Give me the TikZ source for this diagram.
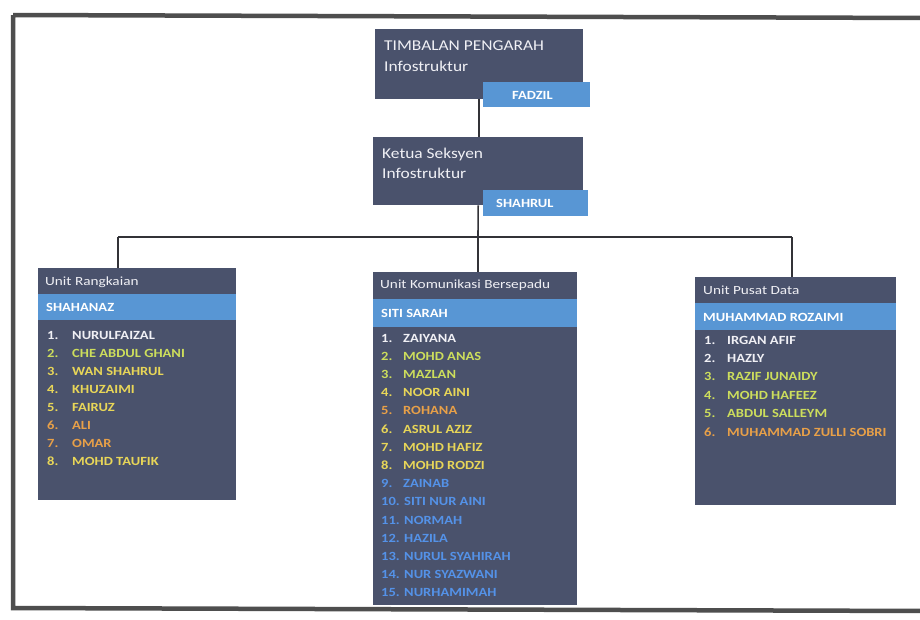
\documentclass[tikz,border=0pt]{standalone}
\usepackage{fontspec}
\setmainfont{Carlito}
\newfontfamily\wfont[FakeStretch=1.16]{Carlito}
\newfontfamily\hfont[FakeStretch=1.22]{Carlito}
\definecolor{boxc}{RGB}{74,82,108}
\definecolor{barc}{RGB}{88,150,212}
\definecolor{framec}{RGB}{78,78,78}
\definecolor{linec}{RGB}{50,50,55}
\definecolor{cw}{RGB}{240,240,245}
\definecolor{cg}{RGB}{205,222,92}
\definecolor{cy}{RGB}{232,214,88}
\definecolor{co}{RGB}{232,160,72}
\definecolor{cb}{RGB}{84,146,232}
\tikzset{
  panel/.style={fill=boxc, inner sep=0pt, anchor=north west},
  bar/.style={fill=barc, inner sep=0pt, anchor=north west},
  ttl/.style={anchor=west, inner sep=0pt, text=cw, font=\wfont\fontsize{15}{15}\selectfont},
  hdr/.style={anchor=west, inner sep=0pt, text=cw, font=\hfont\fontsize{12.5}{12.5}\selectfont},
  bartxt/.style={anchor=west, inner sep=0pt, text=white, font=\wfont\bfseries\fontsize{12.5}{12.5}\selectfont},
  item/.style={anchor=west, inner sep=0pt, font=\wfont\bfseries\fontsize{12.5}{12.5}\selectfont},
  conn/.style={draw=linec, line width=1.6pt}
}
\begin{document}
\begin{tikzpicture}[x=1pt,y=-1pt]
\useasboundingbox (0,0) rectangle (920,619);
\fill[white] (0,0) rectangle (920,619);
\draw[framec, line width=4.5pt] (13,15) -- (930,18) (13,15) -- (13,608) -- (930,611);

% top box
\node[panel, minimum width=208pt, minimum height=70pt] (top) at (375,29) {};
\node[ttl] (topt1) at (384,46) {TIMBALAN PENGARAH};
\node[ttl] (topt2) at (384,66) {Infostruktur};
\node[bar, minimum width=107pt, minimum height=25pt] (topbar) at (483,82) {};
\node[bartxt] (topname) at (512,95) {FADZIL};

% second box
\node[panel, minimum width=210pt, minimum height=68pt] (sec) at (373,137) {};
\node[ttl] (sect1) at (382,154) {Ketua Seksyen};
\node[ttl] (sect2) at (382,173) {Infostruktur};
\node[bar, minimum width=105pt, minimum height=26pt] (secbar) at (483,190) {};
\node[bartxt] (secname) at (496,203) {SHAHRUL};

% unit boxes
\node[panel, minimum width=198pt, minimum height=232pt] (lb) at (38,268) {};
\node[panel, minimum width=204pt, minimum height=333pt] (mb) at (373,272) {};
\node[panel, minimum width=201pt, minimum height=228pt] (rb) at (695,277) {};

% blue bars in unit boxes
\node[bar, minimum width=198pt, minimum height=26pt] (lbar) at (38,294) {};
\node[bar, minimum width=204pt, minimum height=28pt] (mbar) at (373,299) {};
\node[bar, minimum width=201pt, minimum height=27pt] (rbar) at (695,303) {};

\node[hdr] (lh) at (45,282) {Unit Rangkaian};
\node[hdr] (mh) at (380,285) {Unit Komunikasi Bersepadu};
\node[hdr] (rh) at (703,290) {Unit Pusat Data};
\node[bartxt] (ln) at (46,307) {SHAHANAZ};
\node[bartxt] (mn) at (381,313) {SITI SARAH};
\node[bartxt] (rn) at (703,317) {MUHAMMAD ROZAIMI};

% connectors
\coordinate (bl) at (118,237);
\coordinate (bm) at (478,237);
\coordinate (br) at (792,237);
\draw[conn] (top.south) -- (top.south |- sec.north);
\draw[conn] (sec.south) -- (bm);
\draw[conn] (bl) -- (br);
\draw[conn] (bl) -- (bl |- lb.north);
\draw[conn] (bm) -- (bm |- mb.north);
\draw[conn] (br) -- (br |- rb.north);

% left list
\foreach \t/\c [count=\i] in {NURULFAIZAL/cw, CHE ABDUL GHANI/cg, WAN SHAHRUL/cy, KHUZAIMI/cy, FAIRUZ/cy, ALI/co, OMAR/co, MOHD TAUFIK/cy}{
  \node[item, text=\c] (lnum\i) at (47,{335+18*(\i-1)}) {\i.};
  \node[item, text=\c] (lit\i) at (72,{335+18*(\i-1)}) {\t};
}
% middle list
\foreach \t/\c [count=\i] in {ZAIYANA/cw, MOHD ANAS/cg, MAZLAN/cg, NOOR AINI/cy, ROHANA/co, ASRUL AZIZ/cy, MOHD HAFIZ/cy, MOHD RODZI/cy, ZAINAB/cb}{
  \node[item, text=\c] (mnum\i) at (381,{338+18.2*(\i-1)}) {\i.};
  \node[item, text=\c] (mit\i) at (403,{338+18.2*(\i-1)}) {\t};
}
\foreach \t [count=\j from 10] in {SITI NUR AINI, NORMAH, HAZILA, NURUL SYAHIRAH, NUR SYAZWANI, NURHAMIMAH}{
  \node[item, text=cb] (mnum\j) at (381,{338+18.2*(\j-1)}) {\j.};
  \node[item, text=cb] (mit\j) at (404,{338+18.2*(\j-1)}) {\t};
}
% right list
\foreach \t/\c [count=\i] in {IRGAN AFIF/cw, HAZLY/cw, RAZIF JUNAIDY/cg, MOHD HAFEEZ/cg, ABDUL SALLEYM/cg, MUHAMMAD ZULLI SOBRI/co}{
  \node[item, text=\c] (rnum\i) at (704,{340+18.4*(\i-1)}) {\i.};
  \node[item, text=\c] (rit\i) at (727,{340+18.4*(\i-1)}) {\t};
}
\end{tikzpicture}
\end{document}
